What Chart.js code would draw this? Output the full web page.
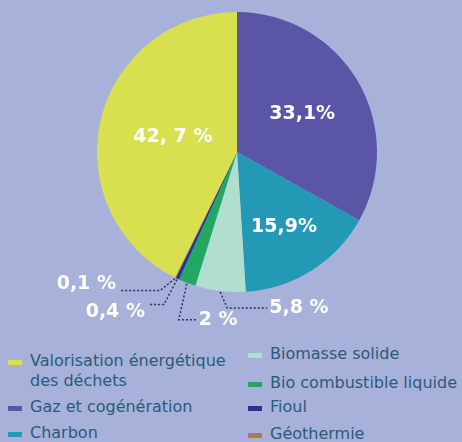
<!DOCTYPE html>
<html>
<head>
<meta charset="utf-8">
<script src="https://cdn.jsdelivr.net/npm/chart.js@4"></script>
<style>
  body { margin: 0; background: #a7b1da; }
  #wrap { position: relative; width: 462px; height: 442px; overflow: hidden; background: #a7b1da; }
  #chartBox { position: absolute; left: 0; top: 0; width: 462px; height: 340px; }
  .leg { position: absolute; font-family: "DejaVu Sans", sans-serif; font-size: 16px; color: #2b5b78; line-height: 20px; white-space: nowrap; }
  .leg span.sw { position: absolute; left: -22px; top: 9px; width: 14px; height: 5px; }
</style>
</head>
<body>
<div id="wrap">
  <div id="chartBox"><canvas id="myChart" width="462" height="340"></canvas></div>
  <div id="legend"></div>
</div>
<script>
// order is clockwise from 12 o'clock
var categories = ["Gaz et cogénération", "Charbon", "Biomasse solide", "Bio combustible liquide", "Fioul", "Géothermie", "Valorisation énergétique des déchets"];
var shares = [33.1, 15.9, 5.8, 2, 0.4, 0.1, 42.7];
var shareLabels = ["33,1%", "15,9%", "5,8 %", "2 %", "0,4 %", "0,1 %", "42, 7 %"];
var colors = ["#5a55a6", "#2399b6", "#b0dfcf", "#22a862", "#2b3192", "#aa7b52", "#d8e050"];

// legend layout (two columns as in the original)
var legendItems = [
  { i: 6, text: "Valorisation énergétique<br>des déchets", x: 30, y: 351 },
  { i: 0, text: "Gaz et cogénération", x: 30, y: 397 },
  { i: 1, text: "Charbon", x: 30, y: 423 },
  { i: 2, text: "Biomasse solide", x: 270, y: 344 },
  { i: 3, text: "Bio combustible liquide", x: 270, y: 373 },
  { i: 4, text: "Fioul", x: 270, y: 397 },
  { i: 5, text: "Géothermie", x: 270, y: 424 }
];

var legend = document.getElementById("legend");
legendItems.forEach(function(it) {
  var d = document.createElement("div");
  d.className = "leg";
  d.style.left = it.x + "px";
  d.style.top = it.y + "px";
  d.innerHTML = '<span class="sw" style="background:' + colors[it.i] + '"></span>' + it.text;
  legend.appendChild(d);
});

// how each value label is placed: inside (radius fraction) or outside with a dotted leader
var labelPlace = [
  { inside: 0.54 },
  { inside: 0.63 },
  { out: true, elbow: [7, 16], end: 40, align: "left" },
  { out: true, elbow: [-8, 36], end: 18, align: "left" },
  { out: true, elbow: [-13, 25], end: -15, align: "right" },
  { out: true, elbow: [-15, 12], end: -40, align: "right" },
  { inside: 0.47 }
];

var valueLabels = {
  id: "valueLabels",
  afterDatasetsDraw: function(chart) {
    var ctx = chart.ctx;
    var meta = chart.getDatasetMeta(0);
    ctx.save();
    ctx.fillStyle = "#ffffff";
    ctx.font = "bold 19px 'DejaVu Sans', sans-serif";
    meta.data.forEach(function(arc, i) {
      var p = arc.getProps(["x", "y", "startAngle", "endAngle", "outerRadius"], true);
      var mid = (p.startAngle + p.endAngle) / 2;
      var pl = labelPlace[i];
      if (pl.inside) {
        var r = p.outerRadius * pl.inside;
        ctx.textAlign = "center";
        ctx.textBaseline = "middle";
        ctx.fillText(shareLabels[i], p.x + Math.cos(mid) * r, p.y + Math.sin(mid) * r);
      } else {
        var ax = p.x + Math.cos(mid) * (p.outerRadius + 1);
        var ay = p.y + Math.sin(mid) * (p.outerRadius + 1);
        var ex = ax + pl.elbow[0], ey = ay + pl.elbow[1];
        var fx = ex + pl.end;
        ctx.save();
        ctx.strokeStyle = "#2b3466";
        ctx.lineWidth = 1.5;
        ctx.setLineDash([2, 2]);
        ctx.beginPath();
        ctx.moveTo(ax, ay);
        ctx.lineTo(ex, ey);
        ctx.lineTo(fx, ey);
        ctx.stroke();
        ctx.restore();
        ctx.textBaseline = "middle";
        ctx.textAlign = pl.align;
        var ty = ey + (i == 5 ? -7 : (i == 4 ? 7 : 0));
        ctx.fillText(shareLabels[i], pl.align == "left" ? fx + 2 : fx - 4, ty);
      }
    });
    ctx.restore();
  }
};

var ctx = document.getElementById("myChart").getContext("2d");
var chart = new Chart(ctx, {
  type: "pie",
  data: {
    labels: categories,
    datasets: [
      {
        data: shares,
        backgroundColor: colors,
        borderWidth: 0
      }
    ]
  },
  options: {
    responsive: false,
    animation: false,
    layout: { padding: { left: 97, right: 85, top: 12, bottom: 48 } },
    plugins: {
      legend: { display: false },
      tooltip: { enabled: false }
    }
  },
  plugins: [valueLabels]
});
</script>
</body>
</html>
